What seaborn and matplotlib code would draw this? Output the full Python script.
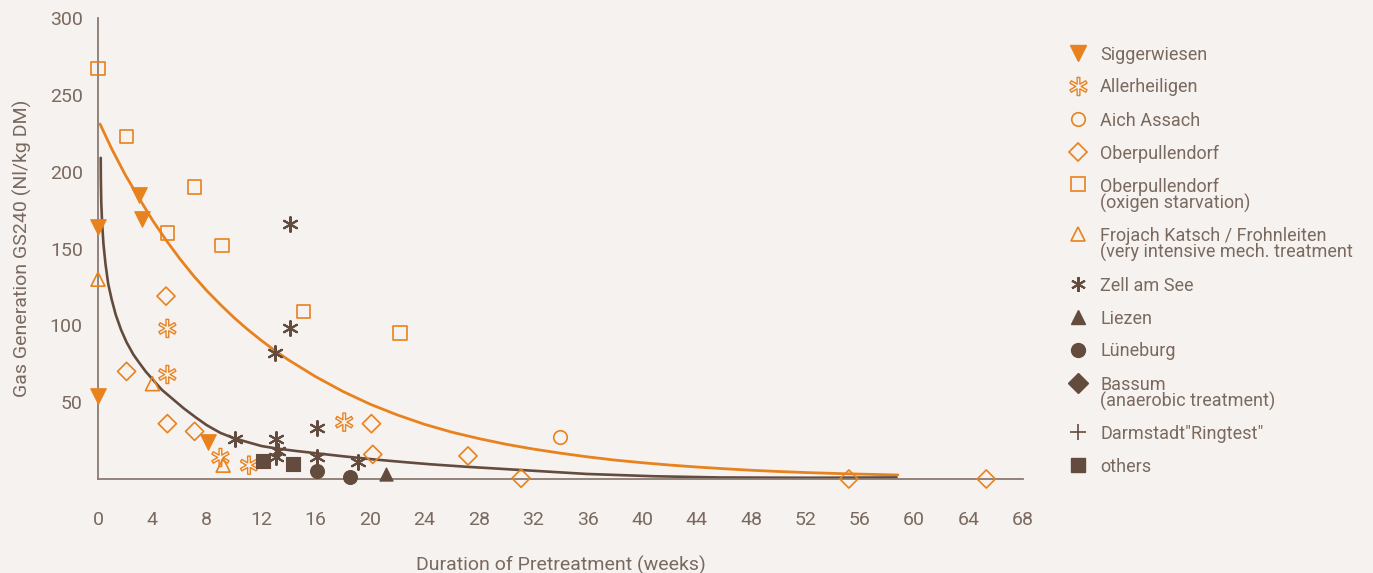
import numpy as np
import pandas as pd
import matplotlib
matplotlib.use("Agg")
import matplotlib.pyplot as plt
from matplotlib.path import Path
from matplotlib.lines import Line2D
import seaborn as sns

# ---- data -------------------------------------------------------------
sigger_x = [0, 0, 3.0, 3.2, 8.1]
sigger_y = [164, 54, 185, 169, 24]

allerh_x = [5.1, 5.1, 9.0, 11.1, 18.1]
allerh_y = [98, 68, 14, 9, 37]

aich_x = [34]
aich_y = [27]

oberp_x = [2.1, 5.0, 5.1, 7.1, 20.1, 20.2, 27.2, 31.1, 55.2, 65.3]
oberp_y = [70, 119, 36, 31, 36, 16, 15, 0.5, 0, 0]

oberp_ox_x = [0, 2.1, 7.1, 5.1, 9.1, 15.1, 22.2]
oberp_ox_y = [267, 223, 190, 160, 152, 109, 95]

frojach_x = [0, 4.0, 9.2]
frojach_y = [130, 62, 9]

zell_x = [14.1, 14.1, 13.0, 10.1, 13.1, 13.2, 13.1, 16.1, 16.1, 19.1]
zell_y = [166, 98, 82, 26, 26, 18, 14, 33, 14, 11]

liezen_x = [21.2]
liezen_y = [3]

lueneburg_x = [16.1, 18.5]
lueneburg_y = [5, 1]

bassum_x = []
bassum_y = []

darmstadt_x = []
darmstadt_y = []

others_x = [12.1, 14.3]
others_y = [12, 10]

# trend curves
trend_orange_x = [0.15, 1, 2, 3, 4, 5, 6, 7, 8, 9, 10, 11, 12, 13, 14, 16,
                  18, 20, 22, 24, 26, 28, 30, 32, 34, 36, 38, 40, 42, 44,
                  46, 48, 50, 52, 55, 58.8]
trend_orange_y = [231, 215, 198, 183, 168.5, 155.5, 143.5, 132.5, 122.5,
                  113.5, 105, 97.3, 90.2, 83.6, 77.5, 66.6, 57, 48.7, 41.7,
                  35.6, 30.5, 26.3, 22.6, 19.5, 16.8, 14.4, 12.3, 10.6, 9.1,
                  7.8, 6.7, 5.7, 4.9, 4.2, 3.4, 2.6]

trend_brown_x = [0.2, 0.21, 0.24, 0.3, 0.4, 0.55, 0.75, 1.0, 1.3, 1.7, 2.1,
                 2.6, 3.0, 3.5, 4.0, 4.7, 5.5, 6.3, 7.2, 8.0, 9.0, 10.0, 11.0,
                 12.0, 13.0, 14.5, 16.0, 18.0, 20.2, 22.5, 24.4, 27.0, 31.0,
                 35.9, 40.8, 45.7, 52.0, 58.7]
trend_brown_y = [209, 195, 180, 167, 153, 140, 127, 117, 107, 97, 89,
                 81, 76, 70, 65, 58, 52, 46, 40, 35, 30, 26.5, 24,
                 21.5, 20, 18.3, 16.8, 14.8, 12.8, 11, 9.6, 8, 5.9,
                 3.3, 1.8, 1.0, 0.8, 1.0]

x_ticks = list(range(0, 69, 4))
y_ticks = [50, 100, 150, 200, 250, 300]

# ---- style ------------------------------------------------------------
ORANGE = "#e8821e"
BROWN = "#634b3d"
AXIS = "#8a7b72"
TEXT = "#7a695f"
BG = "#f6f2ef"

sns.set_theme(style="white")
plt.rcParams["font.family"] = ["Roboto", "DejaVu Sans"]
plt.rcParams["font.weight"] = "normal"


def hollow_asterisk(n=6, half_w=0.15, rot=90):
    """Outline of an n-armed asterisk as a closed path."""
    verts = []
    r_in = half_w / np.sin(np.pi / n)
    for i in range(n):
        a = np.deg2rad(rot + 360.0 * i / n)
        b = np.deg2rad(rot + 360.0 * (i - 0.5) / n)
        d = np.array([np.cos(a), np.sin(a)])
        p = np.array([-np.sin(a), np.cos(a)])
        verts.append(r_in * np.array([np.cos(b), np.sin(b)]))
        verts.append(d - half_w * p)
        verts.append(d + half_w * p)
    verts.append(verts[0])
    codes = [Path.MOVETO] + [Path.LINETO] * (len(verts) - 2) + [Path.CLOSEPOLY]
    return Path(verts, codes)


ASTER_HOLLOW = hollow_asterisk()
ASTER = (6, 2, 0)

fig = plt.figure(figsize=(13.73, 5.73), dpi=100, facecolor=BG)
ax = fig.add_axes([98 / 1373, 1 - 479 / 573, (1023 - 98) / 1373, (479 - 18) / 573])
ax.set_facecolor(BG)

# series: (label, x, y, marker, color, filled, size, linewidth)
series = [
    ("Siggerwiesen", sigger_x, sigger_y, "v", ORANGE, True, 125, 0.8),
    ("Allerheiligen", allerh_x, allerh_y, ASTER_HOLLOW, ORANGE, False, 170, 1.0),
    ("Aich Assach", aich_x, aich_y, "o", ORANGE, False, 95, 1.2),
    ("Oberpullendorf", oberp_x, oberp_y, "D", ORANGE, False, 85, 1.2),
    ("Oberpullendorf\n(oxigen starvation)", oberp_ox_x, oberp_ox_y, "s", ORANGE, False, 95, 1.2),
    ("Frojach Katsch / Frohnleiten\n(very intensive mech. treatment", frojach_x, frojach_y, "^", ORANGE, False, 100, 1.2),
    ("Zell am See", zell_x, zell_y, ASTER, BROWN, False, 115, 1.5),
    ("Liezen", liezen_x, liezen_y, "^", BROWN, True, 90, 0.8),
    ("Lüneburg", lueneburg_x, lueneburg_y, "o", BROWN, True, 100, 0.8),
    ("Bassum\n(anaerobic treatment)", bassum_x, bassum_y, "D", BROWN, True, 95, 0.8),
    ("Darmstadt\"Ringtest\"", darmstadt_x, darmstadt_y, "+", BROWN, False, 120, 1.2),
    ("others", others_x, others_y, "s", BROWN, True, 105, 0.8),
]

# trend lines
sns.lineplot(x=trend_orange_x, y=trend_orange_y, ax=ax, color=ORANGE, lw=2.0,
             sort=False, estimator=None)
sns.lineplot(x=trend_brown_x, y=trend_brown_y, ax=ax, color=BROWN, lw=1.9,
             sort=False, estimator=None)

for label, xs, ys, mk, col, filled, size, lw in series:
    if len(xs) == 0:
        continue
    df = pd.DataFrame({"x": xs, "y": ys})
    if filled:
        sns.scatterplot(data=df, x="x", y="y", ax=ax, marker=mk, s=size,
                        facecolor=col, edgecolor=col, linewidth=lw,
                        clip_on=False, zorder=4)
    elif mk in (ASTER, "+"):
        sns.scatterplot(data=df, x="x", y="y", ax=ax, marker=mk, s=size,
                        color=col, linewidth=lw, clip_on=False, zorder=4)
    else:
        sns.scatterplot(data=df, x="x", y="y", ax=ax, marker=mk, s=size,
                        facecolor="none", edgecolor=col, linewidth=lw,
                        clip_on=False, zorder=4)

# ---- axes -------------------------------------------------------------
ax.set_xlim(0, 68)
ax.set_ylim(0, 300)
ax.set_xticks(x_ticks)
ax.set_yticks(y_ticks)
for s in ("top", "right"):
    ax.spines[s].set_visible(False)
for s in ("left", "bottom"):
    ax.spines[s].set_color(AXIS)
    ax.spines[s].set_linewidth(1.3)
ax.tick_params(axis="both", direction="out", length=6, width=1.1, color=AXIS,
               labelcolor=TEXT, labelsize=14)
ax.tick_params(axis="x", pad=17)
ax.tick_params(axis="y", pad=5)
ax.set_xlabel("Duration of Pretreatment (weeks)", fontsize=14, color=TEXT, labelpad=19)
ax.set_ylabel("Gas Generation GS240 (Nl/kg DM)", fontsize=14, color=TEXT, labelpad=13)

# ---- legend, one row per series ---------------------------------------
row_px = 52.5
for label, xs, ys, mk, col, filled, size, lw in series:
    yf = 1 - row_px / 573
    msize = np.sqrt(size)
    if filled:
        h = Line2D([1078 / 1373], [yf], marker=mk, markersize=msize, color=col,
                   markerfacecolor=col, markeredgecolor=col, linestyle="none",
                   transform=fig.transFigure)
    elif mk in (ASTER, "+"):
        h = Line2D([1078 / 1373], [yf], marker=mk, markersize=msize, color=col,
                   markeredgewidth=lw, linestyle="none", transform=fig.transFigure)
    else:
        h = Line2D([1078 / 1373], [yf], marker=mk, markersize=msize,
                   markerfacecolor="none", markeredgecolor=col,
                   markeredgewidth=lw, linestyle="none", transform=fig.transFigure)
    fig.add_artist(h)
    lines = label.split("\n")
    for k, line in enumerate(lines):
        fig.text(1100 / 1373, 1 - (row_px + 16.5 * k) / 573, line, fontsize=13,
                 color=TEXT, va="center_baseline", ha="left")
    row_px += 33 + 16.5 * (len(lines) - 1)

fig.savefig("out.png", dpi=100, facecolor=BG)
